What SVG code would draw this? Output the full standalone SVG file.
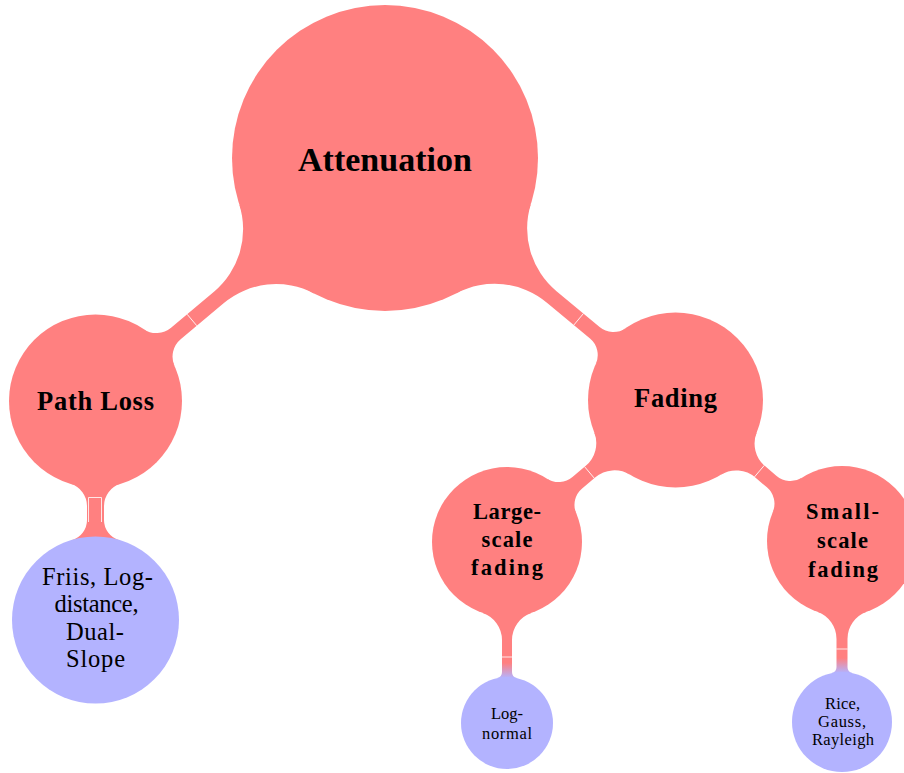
<svg xmlns="http://www.w3.org/2000/svg" width="904" height="773" viewBox="0 0 904 773">
  <style>
    .red { fill: #FF8080; }
    .blue { fill: #B3B3FF; }
    .seam { fill: none; stroke: #FFFFFF; stroke-width: 0.9; opacity: 0.9; }
    text { font-family: "Liberation Serif", "Times New Roman", serif; fill: #000000; text-anchor: middle; }
    .t0 { font-size: 34px; font-weight: bold; }
    .t1 { font-size: 26.5px; font-weight: bold; }
    .t2 { font-size: 22.5px; font-weight: bold; }
    .t3 { font-size: 24.5px; }
    .t4 { font-size: 16.5px; }
  </style>
  <defs>
    <!-- red-to-blue fade at the end of bars leading into leaf concepts -->
    <linearGradient id="fadeLog" gradientUnits="userSpaceOnUse" x1="121" y1="0" x2="136" y2="0">
      <stop offset="0" stop-color="#FF8080"/>
      <stop offset="1" stop-color="#B3B3FF"/>
    </linearGradient>
    <linearGradient id="fadeRice" gradientUnits="userSpaceOnUse" x1="117" y1="0" x2="132" y2="0">
      <stop offset="0" stop-color="#FF8080"/>
      <stop offset="1" stop-color="#B3B3FF"/>
    </linearGradient>
  </defs>

  <!-- connection bars (drawn in a local frame: parent centre at origin, child on +x) -->
  <g id="connectors">
    <g transform="translate(385,158) rotate(140)">
      <path class="red" d="M141.5,-58.1 A81.57,81.57 0 0 0 217,-7.5 L273,-7.5 A22.78,22.78 0 0 0 294.89,-23.97 L294.89,23.97 A22.78,22.78 0 0 0 273,7.5 L217,7.5 A81.57,81.57 0 0 0 141.5,58.1 Z"/>
      <path class="seam" d="M252,-7.5 V7.5"/>
    </g>
    <g transform="translate(385,158) rotate(39.8)">
      <path class="red" d="M141.5,-58.1 A81.57,81.57 0 0 0 217,-7.5 L273.1,-7.5 A21.41,21.41 0 0 0 293.74,-23.23 L293.74,23.23 A21.41,21.41 0 0 0 273.1,7.5 L217,7.5 A81.57,81.57 0 0 0 141.5,58.1 Z"/>
      <path class="seam" d="M252,-7.5 V7.5"/>
    </g>
    <g transform="translate(675.5,400) rotate(139.9)">
      <path class="red" d="M83,-27.68 A29.51,29.51 0 0 0 111,-7.5 L128.4,-7.5 A21.45,21.45 0 0 0 148.86,-22.51 L148.86,22.51 A21.45,21.45 0 0 0 128.4,7.5 L111,7.5 A29.51,29.51 0 0 0 83,27.68 Z"/>
      <path class="seam" d="M112.5,-7.6 V7.6"/>
    </g>
    <g transform="translate(675.5,400) rotate(40.3)">
      <path class="red" d="M83,-27.68 A29.51,29.51 0 0 0 111,-7.5 L126.2,-7.5 A21.45,21.45 0 0 0 146.66,-22.51 L146.66,22.51 A21.45,21.45 0 0 0 126.2,7.5 L111,7.5 A29.51,29.51 0 0 0 83,27.68 Z"/>
      <path class="seam" d="M110,-7.6 V7.6"/>
    </g>
    <g transform="translate(95.5,401) rotate(90)">
      <path class="red" d="M82.82,-24.98 A23.17,23.17 0 0 0 105,-8.5 L119,-8.5 A20.67,20.67 0 0 0 138.84,-23.38 L138.84,23.38 A20.67,20.67 0 0 0 119,8.5 L105,8.5 A23.17,23.17 0 0 0 82.82,24.98 Z"/>
    </g>
    <path class="seam" d="M88.5,522 V497.5 H101.5 V522"/>
    <g transform="translate(507,542) rotate(90)">
      <path fill="url(#fadeLog)" d="M70.95,-24.32 A28.6,28.6 0 0 0 98,-5 L130,-5 A6.22,6.22 0 0 0 136.07,-9.88 L136.07,9.88 A6.22,6.22 0 0 0 130,5 L98,5 A28.6,28.6 0 0 0 70.95,24.32 Z"/>
      <path class="seam" d="M115,-5.2 V5.2"/>
    </g>
    <g transform="translate(842,541) rotate(90)">
      <path fill="url(#fadeRice)" d="M70.78,-24.8 A28.84,28.84 0 0 0 98,-5.5 L126,-5.5 A6.24,6.24 0 0 0 132.1,-10.44 L132.1,10.44 A6.24,6.24 0 0 0 126,5.5 L98,5.5 A28.84,28.84 0 0 0 70.78,24.8 Z"/>
      <path class="seam" d="M108,-5.7 V5.7"/>
    </g>
  </g>

  <!-- concepts -->
  <g id="attenuation">
    <circle class="red" cx="385" cy="158" r="153"/>
    <text class="t0" x="385" y="171" textLength="174">Attenuation</text>
  </g>
  <g id="path-loss">
    <circle class="red" cx="95.5" cy="401" r="86.5"/>
    <text class="t1" x="95.5" y="410" textLength="117">Path Loss</text>
  </g>
  <g id="fading">
    <circle class="red" cx="675.5" cy="400" r="87.5"/>
    <text class="t1" x="675.5" y="407" textLength="83">Fading</text>
  </g>
  <g id="large-scale-fading">
    <circle class="red" cx="507" cy="542" r="75"/>
    <text class="t2" x="507" y="519" textLength="68">Large-</text>
    <text class="t2" x="507" y="547" textLength="51">scale</text>
    <text class="t2" x="507" y="575" textLength="72">fading</text>
  </g>
  <g id="small-scale-fading">
    <circle class="red" cx="842" cy="541" r="75"/>
    <text class="t2" x="842.5" y="519" textLength="73">Small-</text>
    <text class="t2" x="842.5" y="548" textLength="51">scale</text>
    <text class="t2" x="843" y="577" textLength="70">fading</text>
  </g>
  <g id="friis">
    <circle class="blue" cx="95.5" cy="620" r="83.5"/>
    <text class="t3" x="97.5" y="585" textLength="111">Friis, Log-</text>
    <text class="t3" x="96.5" y="612" textLength="84">distance,</text>
    <text class="t3" x="95" y="640" textLength="58">Dual-</text>
    <text class="t3" x="95.5" y="667" textLength="59">Slope</text>
  </g>
  <g id="log-normal">
    <circle class="blue" cx="507" cy="723" r="46"/>
    <text class="t4" x="507" y="719" textLength="32">Log-</text>
    <text class="t4" x="507" y="738.5" textLength="50">normal</text>
  </g>
  <g id="rice-gauss-rayleigh">
    <circle class="blue" cx="842" cy="722" r="50"/>
    <text class="t4" x="842.5" y="709" textLength="35">Rice,</text>
    <text class="t4" x="842" y="727" textLength="48">Gauss,</text>
    <text class="t4" x="843" y="745" textLength="62">Rayleigh</text>
  </g>
</svg>
